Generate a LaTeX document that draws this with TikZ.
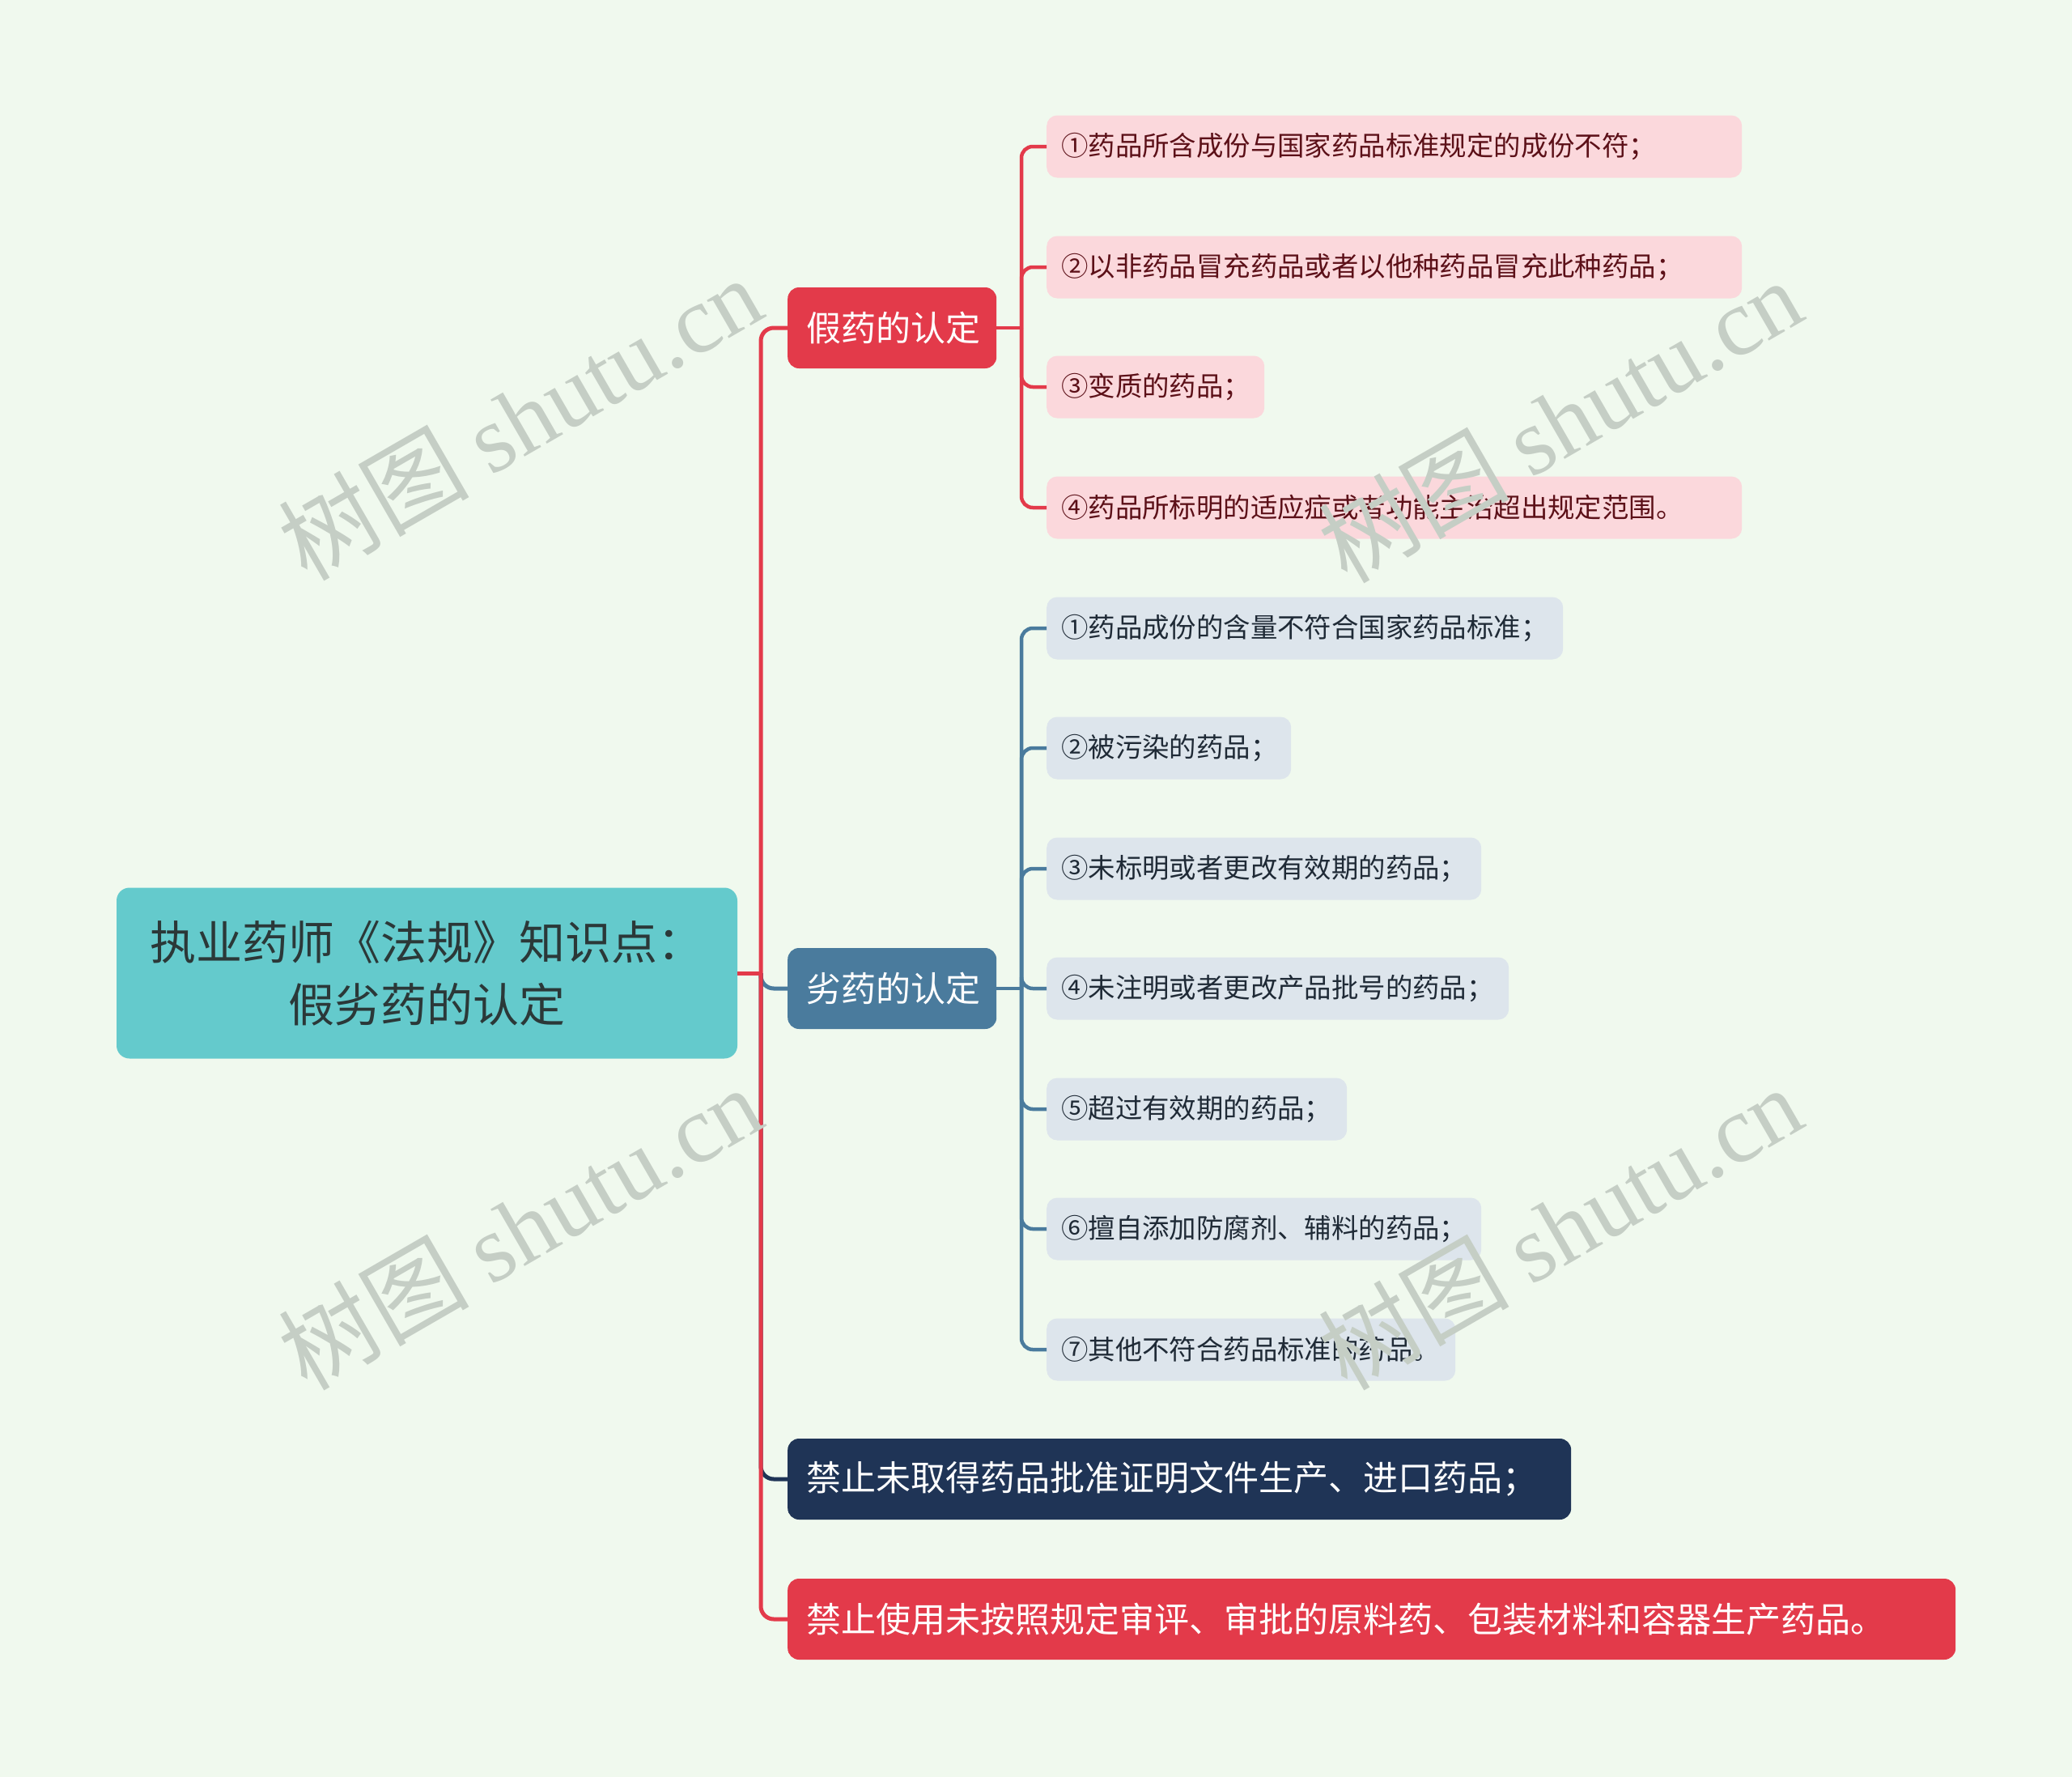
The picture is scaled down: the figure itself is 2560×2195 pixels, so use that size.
\documentclass[tikz,border=0pt]{standalone}
\usepackage{fontspec}
\setmainfont{Noto Sans CJK SC}
\newfontfamily\wmlatin{Liberation Serif}
\definecolor{bgc}{HTML}{F0F9EE}
\definecolor{rootc}{HTML}{64CACC}
\definecolor{roottext}{HTML}{2B3838}
\definecolor{redc}{HTML}{E33A4A}
\definecolor{bluec}{HTML}{4A7B9D}
\definecolor{navyc}{HTML}{1F3456}
\definecolor{pinkc}{HTML}{FBD8DC}
\definecolor{pinktext}{HTML}{5C1018}
\definecolor{lbluec}{HTML}{DDE5EC}
\definecolor{lbluetext}{HTML}{1F2A36}
\definecolor{wmc}{HTML}{C5CEC5}
\begin{document}
\begin{tikzpicture}[x=1pt,y=-1pt,
  rootbox/.style={fill=rootc, text=roottext, rounded corners=16pt, minimum width=767pt, minimum height=211pt, inner sep=0pt, align=center, font=\fontsize{57}{77}\selectfont},
  mainbox/.style={fill=#1, text=white, rounded corners=14pt, minimum height=100pt, inner xsep=23pt, inner ysep=0pt, anchor=west, align=left, font=\fontsize{43}{50}\selectfont},
  pinkbox/.style={fill=pinkc, text=pinktext, rounded corners=13pt, minimum height=77pt, inner xsep=18pt, inner ysep=0pt, anchor=west, align=left, font=\fontsize{33.4}{38}\selectfont},
  lbluebox/.style={fill=lbluec, text=lbluetext, rounded corners=13pt, minimum height=77pt, inner xsep=18pt, inner ysep=0pt, anchor=west, align=left, font=\fontsize{33.4}{38}\selectfont},
  edge/.style={draw=#1, line width=5pt, rounded corners=16pt},
  subedge/.style={draw=#1, line width=4.5pt, rounded corners=14pt},
  wm/.style={text=wmc, rotate=30, font=\fontsize{118}{124}\selectfont, inner sep=0pt}
]
\fill[bgc] (0,0) rectangle (2560,2195);
\useasboundingbox (0,0) rectangle (2560,2195);

% root
\node[rootbox] (root) at (527.5,1202) {执业药师《法规》知识点：\\假劣药的认定};

% main branches
\node[mainbox=redc, text width=212pt] (fake) at (973,405) {假药的认定};
\node[mainbox=bluec, text width=212pt] (lie) at (973,1221) {劣药的认定};
\node[mainbox=navyc, text width=922pt] (ban1) at (973,1827) {禁止未取得药品批准证明文件生产、进口药品；};
\node[mainbox=redc, text width=1397pt] (ban2) at (973,2000) {禁止使用未按照规定审评、审批的原料药、包装材料和容器生产药品。};

% fake children
\node[pinkbox, text width=823pt] (f1) at (1293,181) {\raisebox{-2pt}{①药品所含成份与国家药品标准规定的成份不符；}};
\node[pinkbox, text width=823pt] (f2) at (1293,330) {\raisebox{-2pt}{②以非药品冒充药品或者以他种药品冒充此种药品；}};
\node[pinkbox, text width=233pt] (f3) at (1293,478) {\raisebox{-2pt}{③变质的药品；}};
\node[pinkbox, text width=823pt] (f4) at (1293,627) {\raisebox{-2pt}{④药品所标明的适应症或者功能主治超出规定范围。}};

% lie children
\node[lbluebox, text width=602pt] (l1) at (1293,776) {\raisebox{-2pt}{①药品成份的含量不符合国家药品标准；}};
\node[lbluebox, text width=266pt] (l2) at (1293,924) {\raisebox{-2pt}{②被污染的药品；}};
\node[lbluebox, text width=501pt] (l3) at (1293,1073) {\raisebox{-2pt}{③未标明或者更改有效期的药品；}};
\node[lbluebox, text width=535pt] (l4) at (1293,1221) {\raisebox{-2pt}{④未注明或者更改产品批号的药品；}};
\node[lbluebox, text width=335pt] (l5) at (1293,1370) {\raisebox{-2pt}{⑤超过有效期的药品；}};
\node[lbluebox, text width=501pt] (l6) at (1293,1518) {\raisebox{-2pt}{⑥擅自添加防腐剂、辅料的药品；}};
\node[lbluebox, text width=469pt] (l7) at (1293,1667) {\raisebox{-2pt}{⑦其他不符合药品标准的药品。}};

% main connectors
\coordinate (j0) at (940,1202);
\draw[edge=bluec] (j0) |- (lie.west);
\draw[edge=navyc] (j0) |- (ban1.west);
\draw[edge=redc] (j0) |- (fake.west);
\draw[edge=redc] (j0) |- (ban2.west);
\draw[edge=redc, rounded corners=0pt] (root.east) -- (j0);

% fake connectors
\coordinate (jf) at (1262,405);
\draw[subedge=redc, rounded corners=0pt] (fake.east) -- (jf);
\foreach \n in {f1,f2,f3,f4} \draw[subedge=redc] (jf) |- (\n.west);

% lie connectors
\coordinate (jl) at (1262,1221);
\draw[subedge=bluec, rounded corners=0pt] (lie.east) -- (jl);
\foreach \n in {l1,l2,l3,l4,l5,l6,l7} \draw[subedge=bluec] (jl) |- (\n.west);

% watermarks
\node[wm] (wm1) at (642,516) {树图 {\wmlatin shutu.cn}};
\node[wm] (wm2) at (1927,519) {树图 {\wmlatin shutu.cn}};
\node[wm] (wm3) at (642,1516) {树图 {\wmlatin shutu.cn}};
\node[wm] (wm4) at (1927,1516) {树图 {\wmlatin shutu.cn}};
\end{tikzpicture}
\end{document}
